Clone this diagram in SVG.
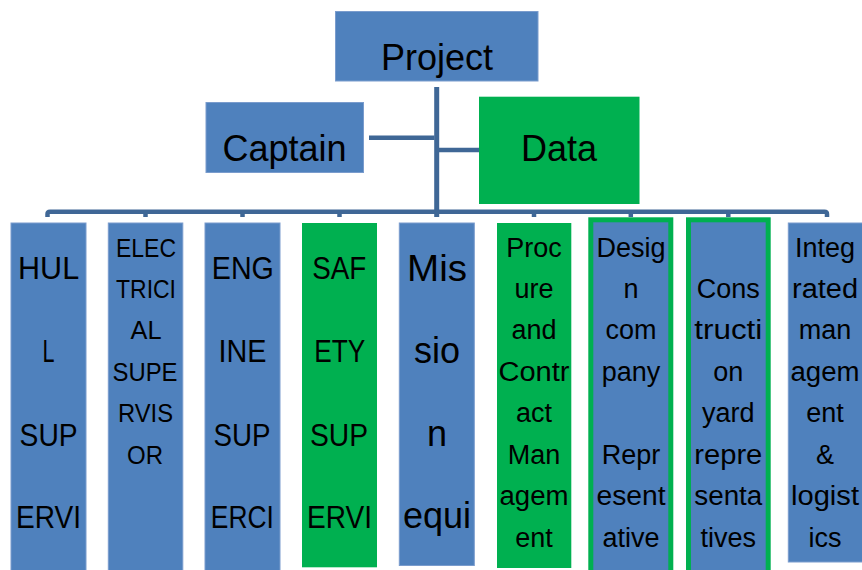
<svg xmlns="http://www.w3.org/2000/svg" width="862" height="570" viewBox="0 0 862 570">
<style>
.b{fill:#4F81BD;stroke:#7A9CCD;stroke-width:1}
.g{fill:#00B050}
.gb{fill:#4F81BD;stroke:#00B050;stroke-width:5}
.c{fill:none;stroke:#3F6796;stroke-width:4.5}
text{font-family:"Liberation Sans",Arial,sans-serif;fill:#000;text-anchor:middle}
.t{font-size:36px}
.k{font-size:32px}
.m{font-size:36px}
.s{font-size:27px}
.e{font-size:26px}
</style>
<rect width="862" height="570" fill="#fff"/>
<g id="connectors">
<line class="c" x1="436.7" y1="87" x2="436.7" y2="217" style="stroke-width:5"/>
<line class="c" x1="369" y1="137.7" x2="434.5" y2="137.7"/>
<line class="c" x1="439" y1="150" x2="479" y2="150"/>
<path class="c" d="M47.5,217 L47.5,214 Q47.5,211.7 50,211.7 L824.5,211.7 Q827,211.7 827,214 L827,217"/>
<line class="c" x1="145.5" y1="211" x2="145.5" y2="217"/>
<line class="c" x1="242.5" y1="211" x2="242.5" y2="217"/>
<line class="c" x1="339.5" y1="211" x2="339.5" y2="217"/>
<line class="c" x1="534" y1="211" x2="534" y2="217"/>
<line class="c" x1="630.8" y1="211" x2="630.8" y2="217"/>
<line class="c" x1="728.3" y1="211" x2="728.3" y2="217"/>
</g>
<g id="project">
<rect class="b" x="335.5" y="11.5" width="202.5" height="69.5"/>
<text class="t" x="437" y="70">Project</text>
</g>
<g id="captain">
<rect class="b" x="206" y="102.5" width="157.5" height="70"/>
<text class="t" x="284.5" y="161">Captain</text>
</g>
<g id="data">
<rect class="g" x="479" y="96.7" width="160.5" height="107.3"/>
<text class="t" x="559" y="161">Data</text>
</g>
<g id="hull">
<rect class="b" x="11" y="223" width="75" height="350"/>
<text class="k" x="48.6" y="279.2" textLength="61" lengthAdjust="spacingAndGlyphs">HUL</text>
<text class="k" x="48.6" y="362.3" textLength="12" lengthAdjust="spacingAndGlyphs">L</text>
<text class="k" x="48.6" y="445.7" textLength="58" lengthAdjust="spacingAndGlyphs">SUP</text>
<text class="k" x="48.6" y="528.3" textLength="65" lengthAdjust="spacingAndGlyphs">ERVI</text>
</g>
<g id="electrical">
<rect class="b" x="108.3" y="223" width="74.5" height="350"/>
<text class="e" x="146" y="256.6" textLength="60" lengthAdjust="spacingAndGlyphs">ELEC</text>
<text class="e" x="146" y="298" textLength="60" lengthAdjust="spacingAndGlyphs">TRICI</text>
<text class="e" x="146" y="339.4" textLength="31" lengthAdjust="spacingAndGlyphs">AL</text>
<text class="e" x="145" y="380.9" textLength="65" lengthAdjust="spacingAndGlyphs">SUPE</text>
<text class="e" x="145.5" y="422.3" textLength="55" lengthAdjust="spacingAndGlyphs">RVIS</text>
<text class="e" x="145" y="463.8" textLength="36" lengthAdjust="spacingAndGlyphs">OR</text>
</g>
<g id="engine">
<rect class="b" x="205" y="223" width="75" height="350"/>
<text class="k" x="242.8" y="279.2" textLength="62" lengthAdjust="spacingAndGlyphs">ENG</text>
<text class="k" x="242.4" y="362.3" textLength="48" lengthAdjust="spacingAndGlyphs">INE</text>
<text class="k" x="241.9" y="445.7" textLength="57" lengthAdjust="spacingAndGlyphs">SUP</text>
<text class="k" x="242.3" y="528.3" textLength="63" lengthAdjust="spacingAndGlyphs">ERCI</text>
</g>
<g id="safety">
<rect class="g" x="302" y="223" width="75" height="344.3"/>
<text class="k" x="339.3" y="279.2" textLength="54" lengthAdjust="spacingAndGlyphs">SAF</text>
<text class="k" x="339.8" y="362.3" textLength="51" lengthAdjust="spacingAndGlyphs">ETY</text>
<text class="k" x="339" y="445.7" textLength="58" lengthAdjust="spacingAndGlyphs">SUP</text>
<text class="k" x="339.5" y="528.3" textLength="65" lengthAdjust="spacingAndGlyphs">ERVI</text>
</g>
<g id="mission">
<rect class="b" x="399.3" y="223" width="75" height="342.5"/>
<text class="m" x="437" y="281" textLength="60" lengthAdjust="spacingAndGlyphs">Mis</text>
<text class="m" x="437" y="363">sio</text>
<text class="m" x="437" y="446">n</text>
<text class="m" x="437" y="528">equi</text>
</g>
<g id="procure">
<rect class="g" x="497" y="223" width="74.3" height="345"/>
<text class="s" x="534" y="256.6">Proc</text>
<text class="s" x="534" y="298">ure</text>
<text class="s" x="534" y="339.4">and</text>
<text class="s" x="534" y="380.9" textLength="71" lengthAdjust="spacingAndGlyphs">Contr</text>
<text class="s" x="534" y="422.3">act</text>
<text class="s" x="534" y="463.8">Man</text>
<text class="s" x="534" y="505.2" textLength="69" lengthAdjust="spacingAndGlyphs">agem</text>
<text class="s" x="534" y="546.7">ent</text>
</g>
<g id="design">
<rect class="gb" x="590.8" y="219.8" width="80" height="354"/>
<text class="s" x="631" y="256.6">Desig</text>
<text class="s" x="631" y="298">n</text>
<text class="s" x="631" y="339.4">com</text>
<text class="s" x="631" y="380.9">pany</text>
<text class="s" x="631" y="463.8">Repr</text>
<text class="s" x="631" y="505.2" textLength="69" lengthAdjust="spacingAndGlyphs">esent</text>
<text class="s" x="631" y="546.7">ative</text>
</g>
<g id="construction">
<rect class="gb" x="688.5" y="219.8" width="79.7" height="354"/>
<text class="s" x="728.3" y="298">Cons</text>
<text class="s" x="728.3" y="339.4" textLength="68" lengthAdjust="spacingAndGlyphs">tructi</text>
<text class="s" x="728.3" y="380.9">on</text>
<text class="s" x="728.3" y="422.3">yard</text>
<text class="s" x="728.3" y="463.8" textLength="68" lengthAdjust="spacingAndGlyphs">repre</text>
<text class="s" x="728.3" y="505.2" textLength="68" lengthAdjust="spacingAndGlyphs">senta</text>
<text class="s" x="728.3" y="546.7">tives</text>
</g>
<g id="integrated">
<rect class="b" x="788.3" y="223" width="80" height="339"/>
<text class="s" x="825" y="256.6">Integ</text>
<text class="s" x="825" y="298" textLength="66" lengthAdjust="spacingAndGlyphs">rated</text>
<text class="s" x="825" y="339.4">man</text>
<text class="s" x="825" y="380.9" textLength="69" lengthAdjust="spacingAndGlyphs">agem</text>
<text class="s" x="825" y="422.3">ent</text>
<text class="s" x="825" y="463.8">&amp;</text>
<text class="s" x="825" y="505.2" textLength="68" lengthAdjust="spacingAndGlyphs">logist</text>
<text class="s" x="825" y="546.7">ics</text>
</g>
</svg>
